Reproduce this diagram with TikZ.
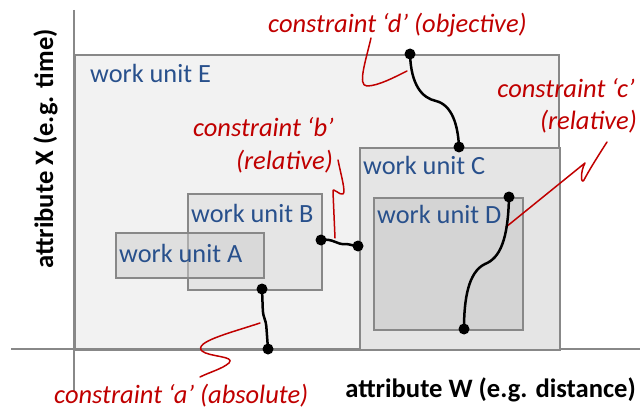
\documentclass[tikz,border=0pt]{standalone}
\usepackage{fontspec}
\setmainfont{Carlito}
\usetikzlibrary{calc}
\definecolor{unitblue}{RGB}{40,80,140}
\definecolor{cred}{RGB}{192,0,0}
\definecolor{edgegray}{RGB}{136,136,136}
\definecolor{fillE}{RGB}{242,242,242}
\definecolor{fillC}{RGB}{229,229,229}
\definecolor{fillD}{RGB}{212,212,212}
\definecolor{fillA}{RGB}{206,206,206}
\tikzset{
  unitbox/.style={draw=edgegray, line width=2pt, anchor=north west, inner sep=0pt},
  unitlabel/.style={text=unitblue, font=\fontsize{26.3}{31}\selectfont, anchor=base west, inner sep=0pt},
  clabel/.style={text=cred, font=\fontsize{26.5}{31}\selectfont\itshape, inner sep=0pt},
  axislabel/.style={font=\fontsize{26.6}{32}\selectfont\bfseries, inner sep=0pt},
  axisline/.style={draw=edgegray, line width=2pt},
  pin/.style={circle, fill=black, inner sep=0pt, minimum size=11pt},
  link/.style={line width=2.5pt, black},
  leader/.style={cred, line width=1.5pt, line cap=round, line join=round},
}
\begin{document}
\begin{tikzpicture}[x=1pt, y=-1pt]
\useasboundingbox (0,0) rectangle (640,409);

% outer work unit E
\node[unitbox, fill=fillE, minimum width=484pt, minimum height=295pt] (E) at (74,54) {};

% axes
\coordinate (xs) at (11,349);
\coordinate (xe) at (640,349);
\coordinate (ys) at (74,10);
\coordinate (ye) at (74,392);
\draw[axisline] (xs) -- (xe);
\draw[axisline] (ys) -- (ye);

% nested work units
\node[unitbox, fill=fillC, minimum width=200pt, minimum height=202pt] (C) at (359,147) {};
\node[unitbox, fill=fillD, minimum width=149pt, minimum height=132pt] (D) at (373,197) {};
\node[unitbox, fill=fillC, minimum width=134pt, minimum height=96pt] (B) at (187,193) {};
\node[unitbox, fill=fillA, fill opacity=0.5, draw opacity=1, minimum width=148pt, minimum height=45pt] (A) at (115,232) {};

% unit labels
\node[unitlabel] (lE) at (90,83) {work unit E};
\node[unitlabel] (lC) at (363,175) {work unit C};
\node[unitlabel] (lD) at (377,223) {work unit D};
\node[unitlabel] (lB) at (191,222) {work unit B};
\node[unitlabel] (lA) at (119,262) {work unit A};

% axis labels
\node[axislabel, anchor=base east] (ax) at (636,397) {attribute W (e.g. distance)};
\node[axislabel, rotate=90, anchor=base] (ay) at (53,149) {attribute X (e.g. time)};

% constraint labels
\node[clabel, anchor=base west] (cd) at (268,33) {constraint ‘d’ (objective)};
\node[clabel, anchor=base east] (cc1) at (635,98) {constraint ‘c’};
\node[clabel, anchor=base east] (cc2) at (637,130) {(relative)};
\node[clabel, anchor=base east] (cb1) at (334,137) {constraint ‘b’};
\node[clabel, anchor=base east] (cb2) at (333,170) {(relative)};
\node[clabel, anchor=base west] (ca) at (54,403) {constraint ‘a’ (absolute)};

% leader lines from the labels to the constraints
\coordinate (rd0) at (371,38);
\coordinate (rd1) at (407,71);
\draw[leader] (rd0) .. controls (366,60) and (357,86) .. (367,86)
  .. controls (378,86) and (395,77) .. (rd1);
\coordinate (rc0) at (607,142);
\coordinate (rc1) at (506,227);
\draw[leader] (rc0) .. controls (598,156) and (588,172) .. (584,180)
  .. controls (581,185) and (580,172) .. (585,163) -- (rc1);
\coordinate (rb0) at (338,160);
\coordinate (rb1) at (335,238);
\draw[leader] (rb0) .. controls (341,175) and (346,192) .. (343,194)
  .. controls (340,196) and (332,186) .. (333,192) -- (rb1);
\coordinate (ra0) at (260,323);
\coordinate (ra1) at (200,377);
\draw[leader] (ra0) .. controls (230,333) and (193,342) .. (202,351)
  .. controls (209,357) and (236,356) .. (229,363)
  .. controls (222,369) and (210,372) .. (ra1);

% constraint connectors
\node[pin] (pd1) at (410,54) {};
\node[pin] (pd2) at (459,147) {};
\draw[link] (pd1.center) .. controls (411,85) and (422,98) .. (436,101)
  .. controls (452,105) and (458,125) .. (pd2.center);

\node[pin] (pc1) at (509,197) {};
\node[pin] (pc2) at (464,329) {};
\draw[link] (pc1.center) .. controls (508,240) and (500,258) .. (485,264)
  .. controls (468,272) and (464,300) .. (pc2.center);

\node[pin] (pb1) at (321,240) {};
\node[pin] (pb2) at (358,246) {};
\draw[link] (pb1.center) .. controls (333,238) and (337,245) .. (345,244)
  .. controls (350,244) and (353,246) .. (pb2.center);

\node[pin] (pa1) at (262,289) {};
\node[pin] (pa2) at (268,349) {};
\draw[link, rounded corners=4pt] (pa1.center) -- (263,315) -- (266,322) -- (pa2.center);
\end{tikzpicture}
\end{document}
